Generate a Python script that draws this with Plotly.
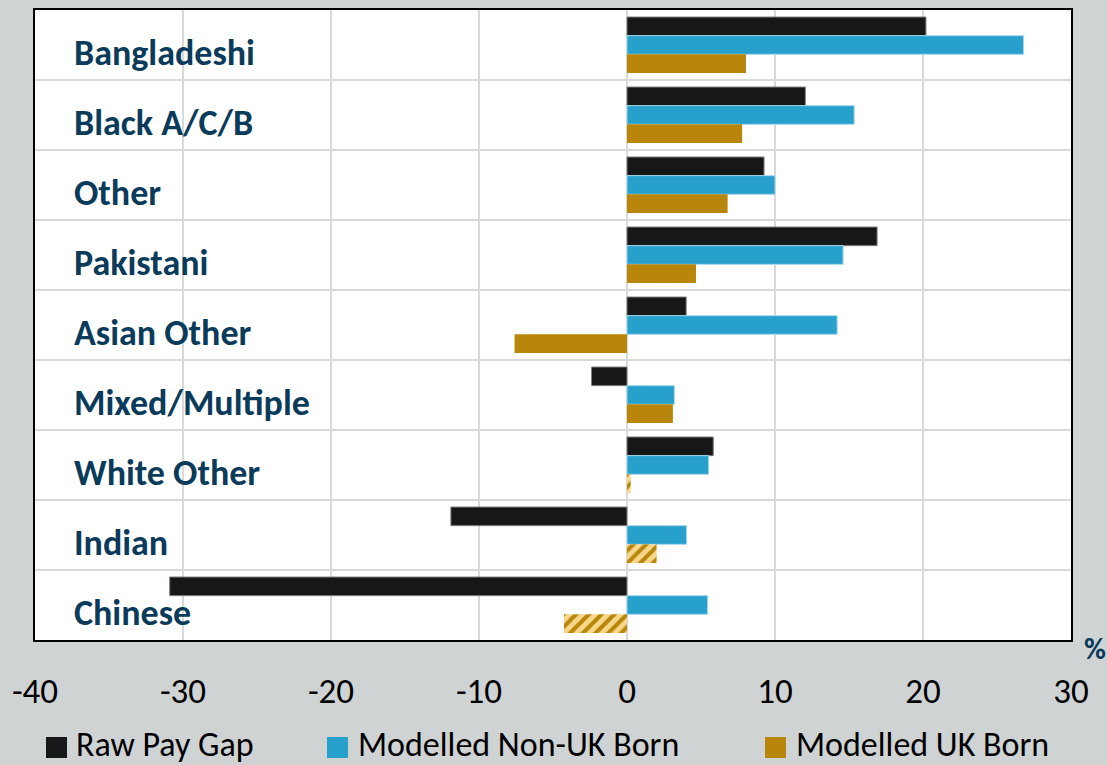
import plotly.graph_objects as go

categories = ["Bangladeshi", "Black A/C/B", "Other", "Pakistani", "Asian Other",
              "Mixed/Multiple", "White Other", "Indian", "Chinese"]
raw_pay_gap = [20.2, 12.05, 9.26, 16.9, 4.0, -2.4, 5.83, -11.9, -30.9]
modelled_non_uk = [26.8, 15.35, 10.0, 14.6, 14.2, 3.2, 5.52, 4.03, 5.45]
modelled_uk = [8.04, 7.78, 6.8, 4.66, -7.6, 3.1, 0.25, 2.0, -4.26]
uk_hatched = [False, False, False, False, False, False, True, True, True]
series_names = ["Raw Pay Gap", "Modelled Non-UK Born", "Modelled UK Born"]
x_ticks = [-40, -30, -20, -10, 0, 10, 20, 30]

BLACK = "#161719"
BLUE = "#27a0cc"
GOLD = "#b8860b"
LIGHT_GOLD = "#f8d78a"
NAVY = "#0b3b5b"
BG = "#cfd3d4"
GRID = "#d9d9d9"
FONT = "Carlito, Lato, sans-serif"

fig = go.Figure()
fig.add_trace(go.Bar(
    y=categories, x=raw_pay_gap, orientation="h", name=series_names[0],
    marker=dict(color=BLACK, line=dict(color="#808080", width=1)), showlegend=False))
fig.add_trace(go.Bar(
    y=categories, x=modelled_non_uk, orientation="h", name=series_names[1],
    marker=dict(color=BLUE, line=dict(color="#a8d8ee", width=1)), showlegend=False))
fig.add_trace(go.Bar(
    y=categories, x=modelled_uk, orientation="h", name=series_names[2],
    marker=dict(
        color=GOLD, line=dict(width=0),
        pattern=dict(
            shape=["/" if h else "" for h in uk_hatched],
            fgcolor=GOLD, bgcolor=LIGHT_GOLD, size=9, solidity=0.45,
            fillmode="replace")),
    showlegend=False))

annotations = []
for c in categories:
    annotations.append(dict(
        x=0.0357, xref="paper", y=c, yref="y", yshift=-8,
        text=c, showarrow=False, xanchor="left", yanchor="middle",
        font=dict(family=FONT, size=36, color=NAVY, weight="bold")))

annotations.append(dict(
    x=1.023, xref="paper", y=-0.014, yref="paper", text="%", showarrow=False,
    xanchor="center", yanchor="middle",
    font=dict(family=FONT, size=30, color=NAVY, weight="bold")))

# manual legend
legend_colors = [BLACK, BLUE, GOLD]
legend_sq_x = [46, 327, 765]
legend_txt_x = [74, 356, 794]
W, H = 1107, 765
L, R, T, B = 35, 36, 10, 125
pw, ph = W - L - R, H - T - B


def px_to_paper_x(px):
    return (px - L) / pw


def px_to_paper_y(py):
    return 1 - (py - T) / ph


shapes = []
for name, col, sx, tx in zip(series_names, legend_colors, legend_sq_x, legend_txt_x):
    shapes.append(dict(
        type="rect", xref="paper", yref="paper",
        x0=px_to_paper_x(sx), x1=px_to_paper_x(sx + 21),
        y0=px_to_paper_y(737), y1=px_to_paper_y(758),
        fillcolor=col, line=dict(width=0)))
    annotations.append(dict(
        x=px_to_paper_x(tx), xref="paper", y=px_to_paper_y(744), yref="paper",
        text=name, showarrow=False, xanchor="left", yanchor="middle",
        font=dict(family=FONT, size=34, color="#000000")))

fig.update_layout(
    width=W, height=H,
    margin=dict(l=L, r=R, t=T, b=B, autoexpand=False),
    paper_bgcolor=BG, plot_bgcolor="#ffffff",
    barmode="group", bargap=0.2, bargroupgap=0,
    annotations=annotations, shapes=shapes,
    font=dict(family=FONT),
)
fig.update_xaxes(
    range=[-40, 30], tickvals=x_ticks, ticktext=[str(v) for v in x_ticks],
    showgrid=True, gridcolor=GRID, gridwidth=2,
    zeroline=True, zerolinecolor=GRID, zerolinewidth=2,
    showline=True, linecolor="#000000", linewidth=2, mirror=True,
    ticks="", ticklabelstandoff=19,
    tickfont=dict(family=FONT, size=35, color="#000000"),
)
fig.update_yaxes(
    categoryorder="array", categoryarray=categories, autorange="reversed",
    showticklabels=False, tickson="boundaries", ticks="",
    showgrid=True, gridcolor=GRID, gridwidth=2,
    showline=True, linecolor="#000000", linewidth=2, mirror=True,
)

fig.write_html(
    "out.html",
    config={"displayModeBar": False},
    post_script="document.body.style.margin='0';document.body.style.padding='0';"
                "document.documentElement.style.overflow='hidden';",
)
